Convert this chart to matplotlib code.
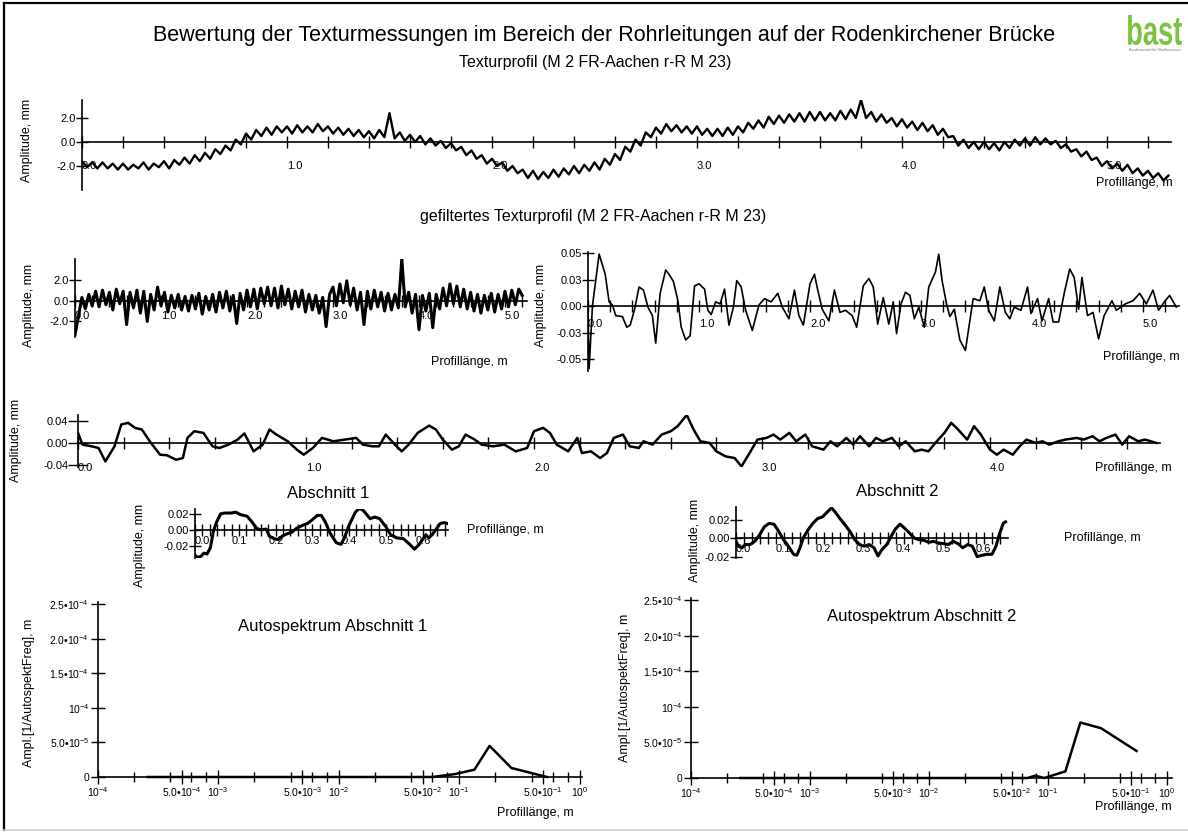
import numpy as np
import matplotlib
matplotlib.use("Agg")
import matplotlib.pyplot as plt
from matplotlib.lines import Line2D
from matplotlib.ticker import NullFormatter
from matplotlib.textpath import TextPath
from matplotlib.patches import PathPatch
from matplotlib.font_manager import FontProperties
from matplotlib.transforms import Affine2D

plt.rcParams['font.family'] = ['Liberation Sans', 'DejaVu Sans']
plt.rcParams['mathtext.fontset'] = 'custom'
plt.rcParams['mathtext.rm'] = 'Liberation Sans'
plt.rcParams['mathtext.default'] = 'regular'

# ---- data ----
# raw texture profile, sampled every 0.025 m
profile_step = 0.025
profile_amp = [
    -1.6, -2.1, -1.7, -2.2, -1.7, -2.2, -1.8, -2.3, -1.8, -2.3, -1.9, -2.2,
    -1.7, -2.3, -1.8, -2.1, -1.6, -2.2, -1.5, -1.9, -1.3, -1.8, -1.1, -1.6,
    -0.9, -1.4, -0.6, -1.0, -0.3, -0.7, 0.2, -0.2, 0.7, 0.2, 1.0, 0.5,
    1.2, 0.6, 1.3, 0.8, 1.3, 0.7, 1.4, 0.8, 1.3, 0.8, 1.5, 0.9,
    1.3, 0.7, 1.2, 0.6, 1.1, 0.5, 1.0, 0.4, 0.9, 0.3, 1.0, 0.4,
    2.4, 0.3, 0.8, 0.1, 0.6, 0.0, 0.5, -0.2, 0.3, -0.3, 0.1, -0.5,
    -0.1, -0.7, -0.4, -1.1, -0.7, -1.4, -1.1, -1.8, -1.4, -2.0, -1.7, -2.4,
    -2.0, -2.6, -2.3, -3.0, -2.4, -3.1, -2.5, -3.0, -2.3, -2.9, -2.2, -2.7,
    -2.0, -2.6, -1.9, -2.4, -1.7, -2.3, -1.4, -1.9, -1.0, -1.5, -0.4, -0.8,
    0.2, -0.3, 0.8, 0.4, 1.2, 0.7, 1.5, 0.9, 1.4, 0.8, 1.3, 0.7,
    1.3, 0.6, 1.1, 0.5, 1.1, 0.5, 1.2, 0.6, 1.3, 0.8, 1.6, 1.1,
    1.8, 1.2, 2.1, 1.5, 2.2, 1.6, 2.3, 1.7, 2.4, 1.7, 2.5, 1.8,
    2.5, 1.8, 2.4, 1.8, 2.6, 1.9, 2.7, 2.0, 3.5, 2.0, 2.5, 1.7,
    2.3, 1.6, 2.0, 1.3, 1.9, 1.2, 1.7, 1.0, 1.6, 0.9, 1.4, 0.6,
    1.1, 0.4, 0.5, -0.3, 0.2, -0.5, 0.0, -0.6, 0.0, -0.6, -0.1, -0.7,
    0.0, -0.5, 0.2, -0.3, 0.3, -0.3, 0.4, -0.2, 0.3, -0.2, 0.1, -0.5,
    -0.2, -0.8, -0.6, -1.2, -0.8, -1.5, -1.3, -2.0, -1.6, -2.2, -1.8, -2.4,
    -1.9, -2.6, -2.2, -2.8, -2.4, -3.0, -2.6, -3.2, -2.8,
]

# filtered profile (left), sampled every 0.04 m
filt_step = 0.04
filt_amp = [
    -3.3, -1.5, 0.3, -0.8, 0.6, -0.5, 0.9, -0.6, 1.0, -0.4,
    0.8, -0.9, 1.1, -0.3, 0.9, -2.3, 0.8, -0.7, 1.0, -1.2,
    0.9, -2.0, 0.6, -0.9, 1.3, -0.5, 0.8, -1.1, 0.5, -0.7,
    0.6, -0.9, 0.4, -1.0, 0.5, -0.8, 0.7, -1.3, 0.4, -0.9,
    0.6, -1.1, 0.8, -0.7, 0.9, -1.0, 0.5, -2.2, 0.7, -0.9,
    1.0, -0.6, 1.1, -0.8, 1.2, -0.3, 1.3, -0.5, 1.2, -0.7,
    1.4, -0.4, 1.1, -0.8, 0.9, -0.6, 1.0, -1.1, 0.6, -0.9,
    0.5, -1.2, 0.3, -2.5, 0.6, 1.3, -0.5, 1.6, -0.2, 1.9,
    -0.4, 1.2, -0.9, 0.8, -2.3, 0.9, -0.8, 1.0, -0.6, 0.8,
    -1.0, 0.7, -0.9, 0.6, -0.7, 4.0, -0.6, 0.8, -1.2, 0.6,
    -2.8, 0.5, -1.0, 0.7, -2.6, 0.6, -0.8, 1.2, -0.5, 1.6,
    -0.3, 1.4, -0.6, 1.1, -0.8, 0.8, -1.0, 0.6, -1.2, 0.5,
    -0.9, 0.7, -1.1, 0.6, -0.8, 0.9, -0.6, 1.0, -0.4, 1.1,
    0.5,
]

# filtered profile (right, 0.05 mm scale)
fine_x = [0.0, 0.01, 0.04, 0.10, 0.155, 0.19, 0.22, 0.25, 0.31, 0.35,
          0.38, 0.42, 0.46, 0.50, 0.54, 0.58, 0.61, 0.65, 0.70, 0.73,
          0.77, 0.81, 0.84, 0.88, 0.92, 0.96, 1.00, 1.05, 1.08, 1.11,
          1.15, 1.19, 1.23, 1.27, 1.31, 1.34, 1.38, 1.42, 1.48, 1.54,
          1.59, 1.65, 1.71, 1.75, 1.81, 1.86, 1.90, 1.94, 2.00, 2.04,
          2.07, 2.11, 2.17, 2.22, 2.27, 2.32, 2.38, 2.42, 2.48, 2.53,
          2.57, 2.61, 2.66, 2.71, 2.75, 2.78, 2.82, 2.86, 2.90, 2.94,
          2.98, 3.03, 3.07, 3.13, 3.16, 3.19, 3.23, 3.26, 3.30, 3.35,
          3.40, 3.44, 3.47, 3.53, 3.57, 3.61, 3.66, 3.71, 3.76, 3.80,
          3.84, 3.90, 3.96, 3.99, 4.05, 4.09, 4.15, 4.19, 4.24, 4.29,
          4.34, 4.38, 4.42, 4.45, 4.50, 4.55, 4.60, 4.65, 4.72, 4.76,
          4.84, 4.91, 4.97, 5.03, 5.09, 5.14, 5.20, 5.24, 5.30]
fine_amp = [-0.001, -0.059, 0.000, 0.049, 0.030, 0.004, 0.001, -0.009, -0.010, -0.020,
            -0.018, -0.003, 0.018, 0.015, -0.001, -0.009, -0.035, 0.012, 0.034, 0.030,
            0.023, 0.005, -0.020, -0.032, -0.028, 0.019, 0.021, 0.016, -0.004, -0.008,
            0.004, 0.002, 0.016, -0.018, -0.001, 0.024, 0.018, -0.004, -0.023, 0.001,
            0.007, 0.004, 0.012, -0.001, -0.012, 0.015, -0.009, -0.018, 0.021, 0.030,
            0.015, -0.003, -0.014, 0.015, -0.006, -0.004, -0.009, -0.020, 0.019, 0.026,
            0.018, -0.017, 0.008, -0.017, 0.004, -0.026, 0.002, 0.013, 0.010, -0.012,
            -0.001, -0.020, 0.018, 0.032, 0.049, 0.024, 0.002, -0.010, -0.003, -0.032,
            -0.042, -0.014, 0.007, 0.005, 0.018, -0.004, -0.014, 0.018, -0.006, -0.012,
            -0.001, -0.004, 0.018, -0.007, 0.007, -0.014, 0.007, -0.015, -0.015, 0.012,
            0.035, 0.027, -0.003, 0.027, -0.009, -0.006, -0.031, -0.009, 0.005, -0.004,
            0.002, 0.005, 0.012, 0.002, 0.015, -0.004, 0.005, 0.010, -0.001]

# third row profile
mid_x = [0.00, 0.02, 0.06, 0.09, 0.12, 0.16, 0.19, 0.22, 0.25, 0.28,
         0.32, 0.36, 0.39, 0.43, 0.46, 0.48, 0.51, 0.55, 0.59, 0.62,
         0.66, 0.70, 0.73, 0.77, 0.81, 0.84, 0.87, 0.92, 0.96, 0.99,
         1.03, 1.07, 1.12, 1.17, 1.22, 1.25, 1.29, 1.32, 1.35, 1.39,
         1.42, 1.45, 1.49, 1.54, 1.57, 1.60, 1.64, 1.67, 1.70, 1.74,
         1.77, 1.82, 1.87, 1.92, 1.97, 2.00, 2.04, 2.07, 2.10, 2.15,
         2.19, 2.21, 2.25, 2.29, 2.32, 2.35, 2.39, 2.42, 2.46, 2.48,
         2.52, 2.56, 2.60, 2.63, 2.67, 2.70, 2.73, 2.77, 2.80, 2.84,
         2.88, 2.91, 2.95, 2.98, 3.02, 3.05, 3.08, 3.12, 3.15, 3.19,
         3.22, 3.27, 3.30, 3.33, 3.37, 3.40, 3.43, 3.47, 3.50, 3.53,
         3.57, 3.60, 3.63, 3.67, 3.70, 3.73, 3.76, 3.80, 3.83, 3.86,
         3.90, 3.93, 3.96, 4.00, 4.03, 4.06, 4.10, 4.13, 4.16, 4.20,
         4.23, 4.26, 4.30, 4.33, 4.38, 4.41, 4.45, 4.48, 4.51, 4.55,
         4.58, 4.61, 4.65, 4.68, 4.73]
mid_amp = [0.018, -0.003, -0.006, -0.009, -0.033, -0.006, 0.033, 0.036, 0.027, 0.024,
           0.000, -0.021, -0.022, -0.030, -0.027, 0.009, 0.021, 0.018, -0.006, -0.009,
           -0.003, 0.006, 0.017, -0.015, -0.003, 0.024, 0.015, 0.003, -0.012, -0.021,
           -0.009, 0.009, 0.003, 0.006, 0.009, -0.003, -0.006, -0.006, 0.015, -0.003,
           -0.015, -0.003, 0.018, 0.031, 0.024, 0.006, -0.012, -0.006, 0.015, 0.006,
           -0.003, -0.006, -0.003, -0.015, -0.009, 0.021, 0.027, 0.018, -0.003, -0.015,
           0.009, -0.018, -0.015, -0.027, -0.018, 0.009, 0.015, -0.006, -0.009, 0.003,
           -0.003, 0.015, 0.021, 0.030, 0.050, 0.024, 0.003, 0.000, -0.015, -0.024,
           -0.027, -0.042, -0.015, 0.006, 0.009, 0.015, 0.006, 0.018, 0.003, 0.015,
           -0.006, -0.012, 0.003, -0.006, 0.009, -0.003, 0.012, -0.006, 0.009, 0.003,
           0.009, -0.006, 0.003, -0.015, -0.012, -0.015, 0.000, 0.018, 0.036, 0.024,
           0.006, 0.030, 0.015, -0.012, -0.021, -0.012, -0.021, -0.006, 0.006, 0.000,
           0.003, -0.003, 0.003, 0.006, 0.009, 0.006, 0.012, 0.003, 0.009, 0.015,
           -0.003, 0.012, 0.003, 0.006, 0.000]

# Abschnitt 1
sec1_x = [0.0, 0.007, 0.016, 0.024, 0.033, 0.042, 0.05, 0.059, 0.07, 0.081,
          0.098, 0.111, 0.124, 0.142, 0.155, 0.168, 0.179, 0.194, 0.203, 0.216,
          0.227, 0.237, 0.25, 0.263, 0.277, 0.29, 0.307, 0.323, 0.333, 0.344,
          0.355, 0.368, 0.385, 0.398, 0.407, 0.42, 0.437, 0.448, 0.459, 0.477,
          0.49, 0.503, 0.52, 0.533, 0.55, 0.568, 0.585, 0.598, 0.611, 0.62,
          0.629, 0.637, 0.646, 0.659, 0.668, 0.679, 0.687]
sec1_amp = [-0.0315, -0.0343, -0.033, -0.029, -0.030, -0.022, -0.002, 0.010, 0.020, 0.021,
            0.021, 0.022, 0.019, 0.017, 0.010, 0.002, 0.000, 0.001, -0.008, -0.011,
            -0.012, -0.008, -0.005, -0.003, 0.002, 0.005, 0.008, 0.014, 0.018, 0.018,
            0.010, -0.004, -0.016, -0.018, -0.010, 0.006, 0.022, 0.027, 0.024, 0.014,
            0.016, 0.014, 0.004, -0.006, -0.010, -0.011, -0.018, -0.024, -0.018, -0.012,
            -0.006, -0.010, -0.006, 0.002, 0.008, 0.009, 0.008]

# Abschnitt 2
sec2_x = [0.0, 0.006, 0.015, 0.023, 0.035, 0.047, 0.059, 0.071, 0.083, 0.095,
          0.107, 0.119, 0.131, 0.144, 0.152, 0.16, 0.168, 0.18, 0.192, 0.204,
          0.216, 0.228, 0.239, 0.248, 0.26, 0.273, 0.285, 0.297, 0.309, 0.321,
          0.333, 0.345, 0.355, 0.365, 0.377, 0.39, 0.398, 0.41, 0.422, 0.434,
          0.446, 0.458, 0.47, 0.482, 0.494, 0.506, 0.519, 0.531, 0.543, 0.555,
          0.567, 0.579, 0.591, 0.603, 0.615, 0.627, 0.64, 0.65, 0.658, 0.668,
          0.674]
sec2_amp = [-0.0035, -0.0088, -0.0105, -0.007, -0.007, -0.0035, 0.0035, 0.0123, 0.0158, 0.015,
            0.007, -0.0018, -0.0088, -0.0175, -0.0186, -0.0105, 0.0, 0.0088, 0.0158, 0.021,
            0.0228, 0.028, 0.0326, 0.028, 0.021, 0.014, 0.007, -0.0018, -0.007, -0.0088,
            -0.007, -0.0105, -0.0193, -0.0123, -0.007, 0.0035, 0.0095, 0.015, 0.0105, 0.0053,
            0.0, -0.0018, -0.0025, -0.0046, -0.0035, -0.0053, -0.006, -0.007, -0.0035, -0.006,
            -0.0105, -0.007, -0.0088, -0.020, -0.0186, -0.0175, -0.0175, -0.0088, 0.0035, 0.0158,
            0.0175]

# autospectra
spec1_len = [2.6e-4, 1e-3, 1e-2, 5.0e-2, 6.0e-2, 9.3e-2, 1.34e-1, 1.79e-1, 2.72e-1, 5.37e-1]
spec1_amp = [0, 0, 0, 0, 0, 4.3e-6, 1.06e-5, 4.5e-5, 1.3e-5, 0]
spec2_len = [2.6e-4, 1e-3, 1e-2, 5.0e-2, 6.76e-2, 7.8e-2, 9.3e-2, 1.40e-1, 1.87e-1, 2.79e-1, 5.55e-1]
spec2_amp = [0, 0, 0, 0, 0, 3.3e-6, 0, 9.3e-6, 7.8e-5, 7.0e-5, 3.8e-5]

W, H = 1188, 836
fig = plt.figure(figsize=(W / 100, H / 100), dpi=100)


def px_axes(left, top, right, bottom):
    return fig.add_axes([left / W, 1 - bottom / H, (right - left) / W, (bottom - top) / H])


def px_text(x, y, s, **kw):
    kw.setdefault('va', 'center')
    fig.text(x / W, 1 - y / H, s, **kw)


def lin_axes(box, xlim, ylim, xmaj, xlab, xminor, ymaj, ylab, xpad=0, fs=8):
    ax = px_axes(*box)
    ax.set_xlim(xlim)
    ax.set_ylim(ylim)
    ax.spines[['top', 'right']].set_visible(False)
    ax.spines['bottom'].set_position(('data', 0))
    for s in ['left', 'bottom']:
        ax.spines[s].set_linewidth(1.2)
    ax.set_xticks(xmaj, xlab)
    ax.set_xticks(xminor, minor=True)
    ax.set_yticks(ymaj, ylab)
    ax.tick_params(direction='inout', length=9, width=1, labelsize=fs, pad=0)
    ax.tick_params(axis='x', pad=xpad)
    ax.tick_params(which='minor', direction='inout', length=8, width=1)
    for t in ax.get_xticklabels():
        t.set_ha('left')
    ax.patch.set_visible(False)
    return ax


def spec_axes(box, xlim, xdata, ydata):
    ax = px_axes(*box)
    ax.set_xscale('log')
    ax.set_xlim(xlim)
    ax.set_ylim(0, 2.53e-4)
    ax.spines[['top', 'right']].set_visible(False)
    for s in ['left', 'bottom']:
        ax.spines[s].set_linewidth(1.2)
    maj = [1e-4, 5e-4, 1e-3, 5e-3, 1e-2, 5e-2, 1e-1, 5e-1, 1e0]
    lab = ['$10^{-4}$', '5.0•$10^{-4}$', '$10^{-3}$', '5.0•$10^{-3}$', '$10^{-2}$',
           '5.0•$10^{-2}$', '$10^{-1}$', '5.0•$10^{-1}$', '$10^{0}$']
    ax.set_xticks(maj, lab)
    ax.set_xticks([m * d for d in [1e-4, 1e-3, 1e-2, 1e-1] for m in (2, 4, 6, 8)], minor=True)
    ax.xaxis.set_minor_formatter(NullFormatter())
    ax.set_yticks([0, 5e-5, 1e-4, 1.5e-4, 2e-4, 2.5e-4],
                  ['0', '5.0•$10^{-5}$', '$10^{-4}$', '1.5•$10^{-4}$', '2.0•$10^{-4}$', '2.5•$10^{-4}$'])
    ax.tick_params(direction='inout', length=10, width=1, labelsize=7.5, pad=1)
    ax.tick_params(which='minor', direction='inout', length=7, width=1)
    ax.patch.set_visible(False)
    ax.plot(xdata, ydata, color='black', lw=1.8, zorder=3, clip_on=False)
    return ax


# ---- frame, title, logo ----
fig.add_artist(Line2D([4 / W, 4 / W], [1 - 3 / H, 1 - 830 / H], color='black', lw=1.6))
fig.add_artist(Line2D([4 / W, 1], [1 - 3 / H, 1 - 3 / H], color='black', lw=1.6))
fig.add_artist(Line2D([4 / W, 1], [1 - 830 / H, 1 - 830 / H], color='#cccccc', lw=1.2))

px_text(604, 35, 'Bewertung der Texturmessungen im Bereich der Rohrleitungen auf der Rodenkirchener Brücke',
        ha='center', fontsize=15.5)

# condensed green logo, squeezed into its box
logo = TextPath((0, 0), 'bast', size=1, prop=FontProperties(family='Liberation Sans', weight='bold'))
ext = logo.get_extents()
sx = 54 / ext.width
sy = 30 / ext.height
logo_tf = Affine2D().translate(-ext.x0, -ext.y0).scale(sx, sy).translate(1128, H - 45)
fig.add_artist(PathPatch(logo, transform=logo_tf, facecolor='#7cc242', edgecolor='none'))
px_text(1155, 50, 'Bundesanstalt für Straßenwesen', ha='center', fontsize=2.5, color='#777777')

# ---- Texturprofil ----
px_text(595, 62, 'Texturprofil (M 2 FR-Aachen r-R M 23)', ha='center', fontsize=11.5)
ax1 = lin_axes((82, 100, 1170.5, 190), (0, 5.31), (-4.0, 3.5),
               [0, 1, 2, 3, 4, 5], ['0.0', '1.0', '2.0', '3.0', '4.0', '5.0'],
               np.arange(0.2, 5.3, 0.2), [-2, 0, 2], ['-2.0', '0.0', '2.0'], xpad=9)
ax1.plot(np.arange(len(profile_amp)) * profile_step, profile_amp, color='black', lw=1.7, zorder=3)
px_text(27, 140, 'Amplitude, mm', ha='center', rotation=90, fontsize=9)
px_text(1173, 183, 'Profillänge, m', ha='right', fontsize=9)

# ---- gefiltertes Texturprofil ----
px_text(593, 217, 'gefiltertes Texturprofil (M 2 FR-Aachen r-R M 23)', ha='center', fontsize=11.5)
ax2 = lin_axes((75, 259, 75 + 5.25 * 86, 337), (0, 5.25), (-3.5, 4.0),
               [0, 1, 2, 3, 4, 5], ['0.0', '1.0', '2.0', '3.0', '4.0', '5.0'],
               np.arange(0.2, 5.25, 0.2), [-2, 0, 2], ['-2.0', '0.0', '2.0'], xpad=3)
ax2.plot(np.arange(len(filt_amp)) * filt_step, filt_amp, color='black', lw=2.2, zorder=3)
px_text(29, 305, 'Amplitude, mm', ha='center', rotation=90, fontsize=9)
px_text(469, 362, 'Profillänge, m', ha='center', fontsize=9)

ax3 = lin_axes((588, 252, 588 + 5.32 * 111, 370.7), (0, 5.32), (-0.061, 0.051),
               [0, 1, 2, 3, 4, 5], ['0.0', '1.0', '2.0', '3.0', '4.0', '5.0'],
               np.arange(0.2, 5.3, 0.2), [-0.05, -0.025, 0, 0.025, 0.05],
               ['-0.05', '-0.03', '0.00', '0.03', '0.05'], xpad=5)
ax3.plot(fine_x, fine_amp, color='black', lw=1.2, zorder=3)
px_text(541, 305, 'Amplitude, mm', ha='center', rotation=90, fontsize=9)
px_text(1180, 357, 'Profillänge, m', ha='right', fontsize=9)

# ---- third row ----
ax4 = lin_axes((78, 415, 78 + 4.745 * 228, 467), (0, 4.745), (-0.043, 0.05),
               [0, 1, 2, 3, 4], ['0.0', '1.0', '2.0', '3.0', '4.0'],
               np.arange(0.2, 4.7, 0.2), [-0.04, 0, 0.04], ['-0.04', '0.00', '0.04'], xpad=10)
ax4.tick_params(axis='y', length=14)
ax4.plot(mid_x, mid_amp, color='black', lw=1.8, zorder=3)
px_text(16, 440, 'Amplitude, mm', ha='center', rotation=90, fontsize=9)
px_text(1172, 468, 'Profillänge, m', ha='right', fontsize=9)

# ---- Abschnitte ----
px_text(328, 493, 'Abschnitt 1', ha='center', fontsize=12)
ax5 = lin_axes((195, 509, 195 + 0.69 * 367, 558), (0, 0.69), (-0.035, 0.026),
               [0, 0.1, 0.2, 0.3, 0.4, 0.5, 0.6], ['0.0', '0.1', '0.2', '0.3', '0.4', '0.5', '0.6'],
               np.arange(0.02, 0.69, 0.02), [-0.02, 0, 0.02], ['-0.02', '0.00', '0.02'])
ax5.plot(sec1_x, sec1_amp, color='black', lw=2.2, zorder=3)
px_text(140, 545, 'Amplitude, mm', ha='center', rotation=90, fontsize=9)
px_text(467, 530, 'Profillänge, m', ha='left', fontsize=9)

px_text(897, 492, 'Abschnitt 2', ha='center', fontsize=12)
ax6 = lin_axes((736, 507, 736 + 0.68 * 400, 558), (0, 0.68), (-0.0215, 0.0335),
               [0, 0.1, 0.2, 0.3, 0.4, 0.5, 0.6], ['0.0', '0.1', '0.2', '0.3', '0.4', '0.5', '0.6'],
               np.arange(0.02, 0.68, 0.02), [-0.02, 0, 0.02], ['-0.02', '0.00', '0.02'])
ax6.plot(sec2_x, sec2_amp, color='black', lw=2.2, zorder=3)
px_text(695, 540, 'Amplitude, mm', ha='center', rotation=90, fontsize=9)
px_text(1064, 538, 'Profillänge, m', ha='left', fontsize=9)

# ---- Autospektren ----
spec_axes((97.6, 602, 97.6 + 4.02 * 120.5, 777), (1e-4, 10 ** 0.02), spec1_len, spec1_amp)
px_text(333, 627, 'Autospektrum Abschnitt 1', ha='center', fontsize=12)
px_text(29, 693, 'Ampl.[1/AutospektFreq], m', ha='center', rotation=90, fontsize=9)
px_text(497, 813, 'Profillänge, m', ha='left', fontsize=9)

spec_axes((691, 598, 691 + 4.04 * 119, 778), (1e-4, 10 ** 0.04), spec2_len, spec2_amp)
px_text(922, 617, 'Autospektrum Abschnitt 2', ha='center', fontsize=12)
px_text(625, 688, 'Ampl.[1/AutospektFreq], m', ha='center', rotation=90, fontsize=9)
px_text(1172, 807, 'Profillänge, m', ha='right', fontsize=9)

fig.savefig('out.png', dpi=100)
